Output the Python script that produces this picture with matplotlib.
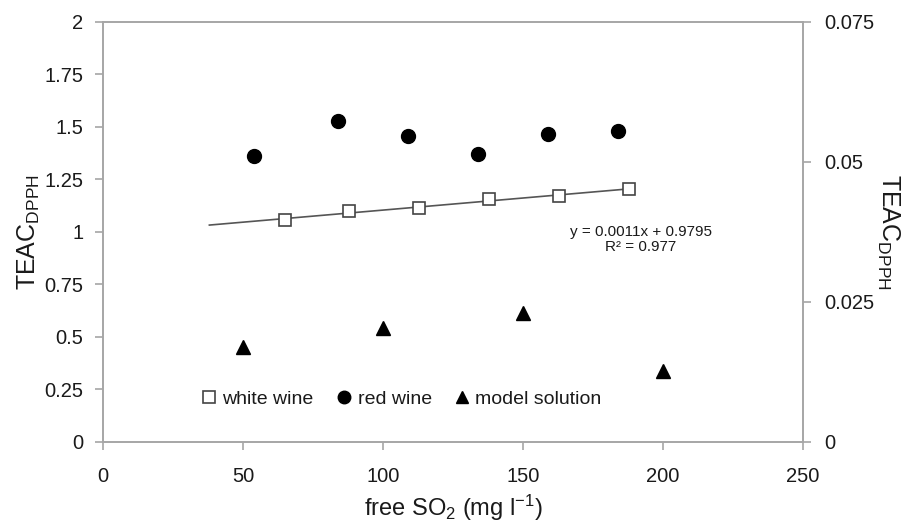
import numpy as np
import matplotlib
matplotlib.use('Agg')
import matplotlib.pyplot as plt

plt.rcParams['font.family'] = ['Liberation Sans', 'DejaVu Sans']
plt.rcParams['mathtext.default'] = 'regular'

# data
white_x = [65, 88, 113, 138, 163, 188]
white_y = [1.057, 1.100, 1.114, 1.157, 1.171, 1.205]
red_x = [54, 84, 109, 134, 159, 184]
red_y = [1.362, 1.530, 1.457, 1.370, 1.467, 1.481]
model_x = [50, 100, 150, 200]
model_y = [0.0170, 0.0203, 0.0230, 0.0127]   # right axis
trend_start = 38
eq_text = 'y = 0.0011x + 0.9795\nR² = 0.977'

left_ticks = [0, 0.25, 0.5, 0.75, 1, 1.25, 1.5, 1.75, 2]
left_labels = ['0', '0.25', '0.5', '0.75', '1', '1.25', '1.5', '1.75', '2']
right_ticks = [0, 0.025, 0.05, 0.075]
right_labels = ['0', '0.025', '0.05', '0.075']
x_ticks = [0, 50, 100, 150, 200, 250]

SPINE = '#a6a6a6'
TXT = '#1a1a1a'

fig = plt.figure(figsize=(9.09, 5.25), dpi=100)
ax1 = fig.add_axes([0.1133, 0.1581, 0.77, 0.8])
ax2 = ax1.twinx()

# trendline fitted to white wine points, extended backwards
p = np.polyfit(white_x, white_y, 1)
tx = np.array([trend_start, white_x[-1]])
ax1.plot(tx, np.polyval(p, tx), color='#555555', lw=1.2, zorder=1)

ax1.plot(white_x, white_y, ls='none', marker='s', ms=9, mfc='white',
         mec='#444444', mew=1.2, label='white wine', zorder=3)
ax1.plot(red_x, red_y, ls='none', marker='o', ms=10, color='black',
         label='red wine', zorder=3)
ax2.plot(model_x, model_y, ls='none', marker='^', ms=9.5, color='black',
         label='model solution', zorder=3)

ax1.text(192, 0.965, eq_text, ha='center', va='center', fontsize=11,
         color=TXT, linespacing=1.15)

ax1.set_xlim(0, 250)
ax1.set_ylim(0, 2)
ax2.set_ylim(0, 0.075)
ax1.set_xticks(x_ticks)
ax1.set_xticklabels([str(v) for v in x_ticks])
ax1.set_yticks(left_ticks)
ax1.set_yticklabels(left_labels)
ax2.set_yticks(right_ticks)
ax2.set_yticklabels(right_labels)

for ax in (ax1, ax2):
    for s in ax.spines.values():
        s.set_color(SPINE)
        s.set_linewidth(1.2)
    ax.tick_params(colors=SPINE, labelcolor=TXT, labelsize=14.5, length=6,
                   width=1.2, direction='out')
ax1.tick_params(axis='y', pad=8)
ax1.tick_params(axis='x', pad=12)
ax2.tick_params(axis='y', pad=9)

ax1.set_xlabel('free SO$_2$ (mg l$^{-1}$)', fontsize=17, color=TXT, labelpad=5)
ax1.set_ylabel('TEAC$_{DPPH}$', fontsize=18, color=TXT, labelpad=2)
ax2.set_ylabel('TEAC$_{DPPH}$', fontsize=18, color=TXT, rotation=270,
               labelpad=20)

h1, l1 = ax1.get_legend_handles_labels()
h2, l2 = ax2.get_legend_handles_labels()
ax1.legend(h1 + h2, l1 + l2, loc='center left', bbox_to_anchor=(0.143, 0.102),
           ncol=3, frameon=False, fontsize=14, handlelength=0.6,
           handletextpad=0.4, columnspacing=1.25, borderpad=0,
           borderaxespad=0, markerscale=0.9, labelcolor=TXT)

fig.savefig('out.png', dpi=100)
